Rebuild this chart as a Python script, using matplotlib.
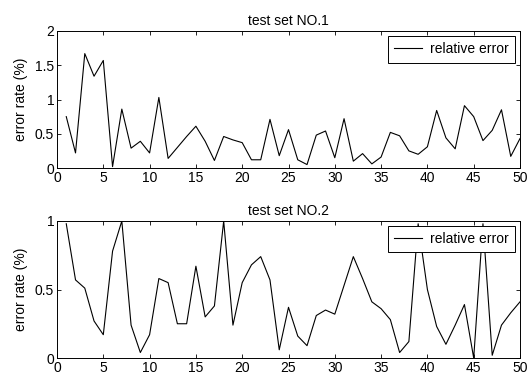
import matplotlib
matplotlib.use('Agg')
import matplotlib.pyplot as plt
from matplotlib.ticker import FuncFormatter

plt.rcParams['font.family'] = ['Liberation Sans', 'DejaVu Sans']
plt.rcParams['font.size'] = 10

# sample index 1..50
samples = list(range(1, 51))

# relative error per sample, test set NO.1
err_set1 = [0.75, 0.22, 1.67, 1.34, 1.57, 0.02, 0.86, 0.29, 0.39, 0.22,
            1.03, 0.14, 0.30, 0.46, 0.61, 0.39, 0.11, 0.46, 0.41, 0.37,
            0.12, 0.12, 0.71, 0.18, 0.56, 0.12, 0.05, 0.48, 0.54, 0.15,
            0.72, 0.10, 0.21, 0.06, 0.16, 0.52, 0.47, 0.25, 0.20, 0.31,
            0.84, 0.44, 0.28, 0.91, 0.75, 0.40, 0.55, 0.85, 0.17, 0.43]

# relative error per sample, test set NO.2
err_set2 = [0.98, 0.57, 0.51, 0.27, 0.17, 0.78, 1.00, 0.24, 0.04, 0.17,
            0.58, 0.55, 0.25, 0.25, 0.67, 0.30, 0.38, 1.00, 0.24, 0.55,
            0.68, 0.74, 0.57, 0.06, 0.37, 0.16, 0.09, 0.31, 0.35, 0.32,
            0.53, 0.74, 0.58, 0.41, 0.36, 0.28, 0.04, 0.12, 0.98, 0.50,
            0.23, 0.10, 0.24, 0.39, 0.00, 0.98, 0.02, 0.24, 0.33, 0.41]

titles = ['test set NO.1', 'test set NO.2']
ylims = [2, 1]
yticks = [[0, 0.5, 1, 1.5, 2], [0, 0.5, 1]]

fig = plt.figure(figsize=(5.29, 3.81), dpi=100)
W, H = 529.0, 381.0
# axes boxes in pixels: left, top, right, bottom
boxes = [(57, 31, 520, 168), (57, 221, 520, 358)]

fmt = FuncFormatter(lambda v, p: ('%g' % v))

for k, data in enumerate([err_set1, err_set2]):
    l, t, r, b = boxes[k]
    ax = fig.add_axes([l / W, 1 - b / H, (r - l) / W, (b - t) / H])
    ax.plot(samples, data, color='black', linewidth=0.8, label='relative error')
    ax.set_xlim(0, 50)
    ax.set_ylim(0, ylims[k])
    ax.set_xticks(range(0, 51, 5))
    ax.set_yticks(yticks[k])
    ax.yaxis.set_major_formatter(fmt)
    ax.tick_params(direction='in', top=True, right=True, length=3,
                   width=0.6, labelsize=10, pad=2)
    for s in ax.spines.values():
        s.set_linewidth(0.7)
    ax.set_title(titles[k], fontsize=10, pad=4)
    ax.set_ylabel('error rate (%)', fontsize=10, labelpad=5)
    leg = ax.legend(loc='upper right', fancybox=False, framealpha=1,
                    edgecolor='black', borderaxespad=0.36, handlelength=2.0,
                    handletextpad=0.6, fontsize=10, borderpad=0.45)
    leg.get_frame().set_linewidth(0.7)

fig.savefig('out.png', dpi=100)
